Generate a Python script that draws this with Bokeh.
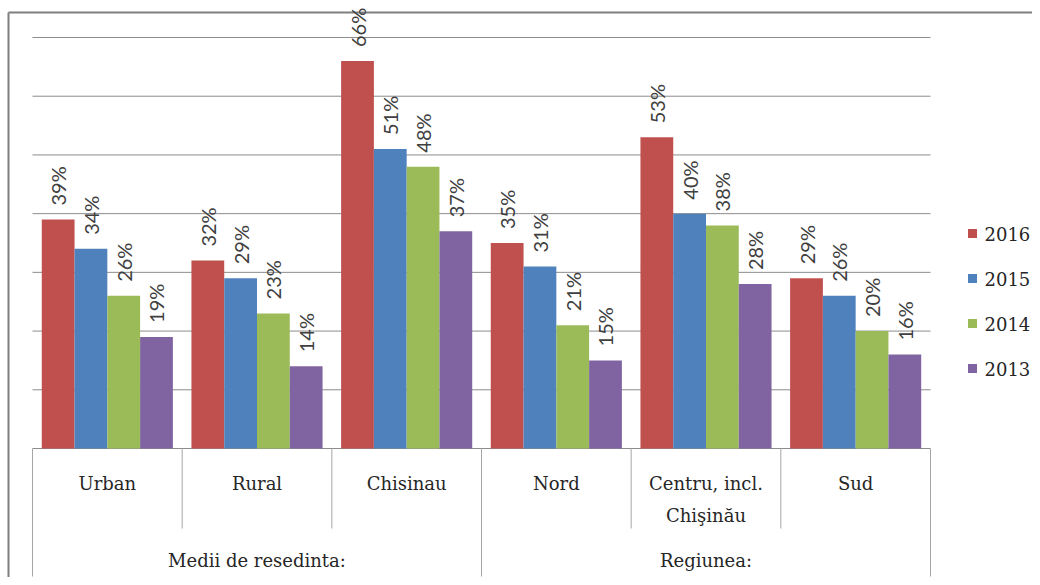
import numpy as np
from bokeh.plotting import figure
from bokeh.models import Range1d, ColumnDataSource
from bokeh.core.properties import value
from bokeh.embed import file_html
from bokeh.resources import INLINE

# ---------------- data ----------------
categories = ["Urban", "Rural", "Chisinau", "Nord", "Centru, incl.\nChişinău", "Sud"]
groups = ["Medii de resedinta:", "Regiunea:"]
group_sizes = [3, 3]
series_names = ["2016", "2015", "2014", "2013"]
v2016 = [39, 32, 66, 35, 53, 29]
v2015 = [34, 29, 51, 31, 40, 26]
v2014 = [26, 23, 48, 21, 38, 20]
v2013 = [19, 14, 37, 15, 28, 16]
grid_ticks = [0, 10, 20, 30, 40, 50, 60, 70]
colors = ["#C0504D", "#4F81BD", "#9BBB59", "#8064A2"]

series = [v2016, v2015, v2014, v2013]

# ---------------- geometry ----------------
W, H = 1032, 577
left_px, right_px = 32, 930     # plot area in figure px
top_px, bottom_px = 37, 448
ymax = grid_ticks[-1]
n = len(categories)
xs = (right_px - left_px) / n
ys = (bottom_px - top_px) / ymax
x_start = -left_px / xs
x_end = n + (W - right_px) / xs
y_end = ymax + top_px / ys
y_start = -(H - bottom_px) / ys

p = figure(width=W, height=H, x_range=Range1d(x_start, x_end), y_range=Range1d(y_start, y_end),
           x_axis_type=None, y_axis_type=None, toolbar_location=None, output_backend="svg",
           min_border=0, outline_line_color=None)
p.grid.visible = False
p.background_fill_color = "white"
p.border_fill_color = "white"

def px_x(d):  # px distance -> data x
    return d / xs

def px_y(d):
    return d / ys

# chart frame (left & top)
fx = x_start + px_x(8)
fy = y_end - px_y(12)
p.segment(x0=[fx], x1=[fx], y0=[y_start], y1=[fy], line_color="#7F7F7F", line_width=2)
p.segment(x0=[fx], x1=[x_end], y0=[fy], y1=[fy], line_color="#7F7F7F", line_width=2)

# gridlines
p.segment(x0=[0] * len(grid_ticks), x1=[n] * len(grid_ticks), y0=grid_ticks, y1=grid_ticks,
          line_color="#8C8C8C", line_width=1)

# category separators
bounds = list(range(n + 1))
outer = set(np.cumsum([0] + group_sizes).tolist())
inner_b = [b for b in bounds if b not in outer]
outer_b = sorted(outer)
p.segment(x0=inner_b, x1=inner_b, y0=[0] * len(inner_b), y1=[-px_y(80)] * len(inner_b),
          line_color="#A6A6A6", line_width=1)
p.segment(x0=outer_b, x1=outer_b, y0=[0] * len(outer_b), y1=[-px_y(128)] * len(outer_b),
          line_color="#A6A6A6", line_width=1)

# bars
bar_w = 0.219
centers = np.arange(n) + 0.5
for i, (vals, col) in enumerate(zip(series, colors)):
    off = (i - 1.5) * bar_w
    src = ColumnDataSource(dict(x=centers + off, top=vals, lab=[f"{v}%" for v in vals]))
    p.vbar(x="x", top="top", bottom=0, width=bar_w, source=src, fill_color=col, line_color=None)
    p.text(x="x", y="top", text="lab", source=src, angle=np.pi / 2, text_align="left",
           text_baseline="middle", y_offset=-14, text_font=value("Lato"), text_font_size="20px",
           text_color="#404040")

# category labels
serif = value("DejaVu Serif")
for i, c in enumerate(categories):
    lines = c.split("\n")
    for j, ln in enumerate(lines):
        p.text(x=[centers[i]], y=[-px_y(35 + 32 * j)], text=[ln], text_align="center",
               text_baseline="middle", text_font=serif, text_font_size="18px", text_color="#262626")

# group labels
gstarts = np.cumsum([0] + group_sizes)
for g, s, sz in zip(groups, gstarts[:-1], group_sizes):
    p.text(x=[s + sz / 2], y=[-px_y(112)], text=[g], text_align="center", text_baseline="middle",
           text_font=serif, text_font_size="18px", text_color="#262626")

# legend (manual)
leg_x = n + px_x(42)
leg_top = px_y(bottom_px - 233)
leg_step = px_y(45)
for i, (name, col) in enumerate(zip(series_names, colors)):
    yy = leg_top - i * leg_step
    p.scatter(x=[leg_x], y=[yy], marker="square", size=9, fill_color=col, line_color=None)
    p.text(x=[leg_x + px_x(12)], y=[yy], text=[name], text_align="left", text_baseline="middle",
           text_font=serif, text_font_size="18px", text_color="#262626")

open("out.html", "w").write(file_html(p, INLINE))
